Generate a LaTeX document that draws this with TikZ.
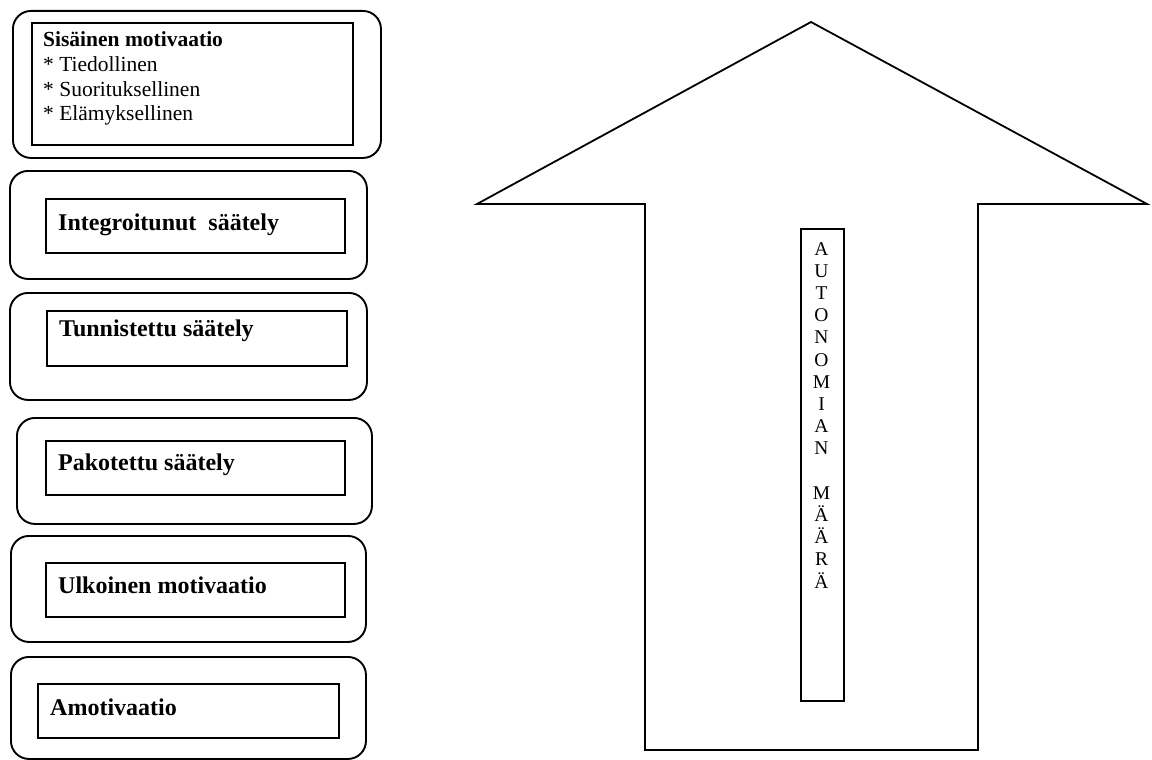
\documentclass[tikz,border=0pt]{standalone}
\usepackage{fontspec}
\setmainfont{Liberation Serif}
\begin{document}
\begin{tikzpicture}[x=1pt,y=-1pt,
  outerbox/.style={draw, line width=1.9pt, rounded corners=18pt, anchor=north west, inner sep=0pt},
  innerbox/.style={draw, line width=2.3pt, anchor=north west, inner sep=0pt},
  lbl/.style={anchor=base west, inner sep=0pt, font=\fontsize{24}{28}\selectfont\bfseries},
  small/.style={anchor=base west, inner sep=0pt, font=\fontsize{21.5}{24.5}\selectfont},
  arrowline/.style={draw, line width=1.8pt, line join=miter}]
\useasboundingbox (0,0) rectangle (1152,760);

% box 1
\node[outerbox, minimum width=368pt, minimum height=147pt] (o1) at (12,10) {};
\node[innerbox, minimum width=321pt, minimum height=122pt] (i1) at (31,22) {};
\node[small] (t1a) at (43,47) {\bfseries Sisäinen motivaatio};
\node[small] (t1b) at (43,72) {* Tiedollinen};
\node[small] (t1c) at (43,96.5) {* Suorituksellinen};
\node[small] (t1d) at (43,121) {* Elämyksellinen};

% box 2
\node[outerbox, minimum width=357pt, minimum height=108pt] (o2) at (9,170) {};
\node[innerbox, minimum width=299pt, minimum height=54pt] (i2) at (45,198) {};
\node[lbl] (t2) at (58,230) {Integroitunut\ \ säätely};

% box 3
\node[outerbox, minimum width=357pt, minimum height=107pt] (o3) at (9,292) {};
\node[innerbox, minimum width=300pt, minimum height=55pt] (i3) at (46,310) {};
\node[lbl] (t3) at (59,336) {Tunnistettu säätely};

% box 4
\node[outerbox, minimum width=355pt, minimum height=106pt] (o4) at (16,417) {};
\node[innerbox, minimum width=299pt, minimum height=54pt] (i4) at (45,440) {};
\node[lbl] (t4) at (58,470) {Pakotettu säätely};

% box 5
\node[outerbox, minimum width=355pt, minimum height=106pt] (o5) at (10,535) {};
\node[innerbox, minimum width=299pt, minimum height=54pt] (i5) at (45,562) {};
\node[lbl] (t5) at (58,593) {Ulkoinen motivaatio};

% box 6
\node[outerbox, minimum width=355pt, minimum height=102pt] (o6) at (10,656) {};
\node[innerbox, minimum width=301pt, minimum height=54pt] (i6) at (37,683) {};
\node[lbl] (t6) at (50,715) {Amotivaatio};

% arrow
\draw[arrowline] (645,750) -- (645,204) -- (477,204) -- (811,22) -- (1147,204) -- (978,204) -- (978,750) -- cycle;

% text box in arrow
\node[innerbox, minimum width=43pt, minimum height=472pt] (tb) at (800,228) {};
\node[anchor=north, inner sep=0pt, align=center, font=\fontsize{19.5}{22.2}\selectfont] (vt) at (821.5,242)
  {A\\U\\T\\O\\N\\O\\M\\I\\A\\N\\\mbox{}\\M\\Ä\\Ä\\R\\Ä};
\end{tikzpicture}
\end{document}
